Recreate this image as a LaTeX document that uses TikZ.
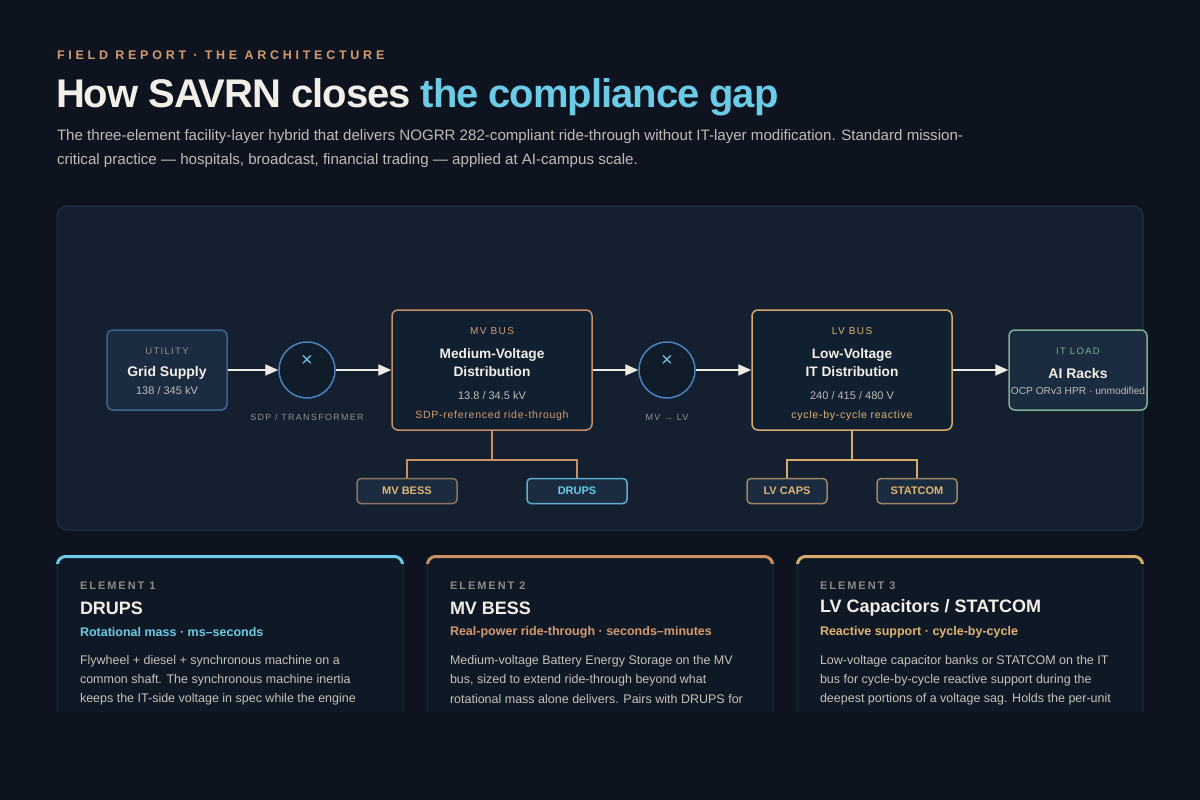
\documentclass[tikz,border=0pt]{standalone}
\usepackage{fontspec}
\setmainfont{Liberation Sans}
\newfontfamily\lsfont[LetterSpace=18]{Liberation Sans}
\newfontfamily\kickfont[LetterSpace=30]{Liberation Sans}
\newfontfamily\tagfont[LetterSpace=14]{Liberation Sans}
\newfontfamily\lsmfont[LetterSpace=7]{Liberation Sans}
\newfontfamily\tightfont[LetterSpace=-2.6]{Liberation Sans}
\usetikzlibrary{arrows.meta}
\definecolor{bg}{HTML}{0E141F}
\definecolor{panel}{HTML}{142030}
\definecolor{panelborder}{HTML}{22344A}
\definecolor{boxfill}{HTML}{1B2C40}
\definecolor{busfill}{HTML}{112030}
\definecolor{gridborder}{HTML}{3F6391}
\definecolor{circborder}{HTML}{4A82BD}
\definecolor{circfill}{HTML}{111C2B}
\definecolor{cyanc}{HTML}{6CCBE6}
\definecolor{copper}{HTML}{C99066}
\definecolor{coppertext}{HTML}{D49A6E}
\definecolor{gold}{HTML}{D6AB6C}
\definecolor{goldtext}{HTML}{E0B472}
\definecolor{sage}{HTML}{7FAE94}
\definecolor{titlewhite}{HTML}{F2EFE8}
\definecolor{smallgray}{HTML}{8F9296}
\definecolor{subgray}{HTML}{BDBCB8}
\definecolor{arrowc}{HTML}{EEEBE3}
\definecolor{bessborder}{HTML}{8C7462}
\definecolor{drupsborder}{HTML}{5EAECB}
\definecolor{lvsmallborder}{HTML}{A08664}
\definecolor{cardfill}{HTML}{0F1825}
\definecolor{cardborder}{HTML}{1E2C40}
\definecolor{bodygray}{HTML}{C4C2BC}
\definecolor{elgray}{HTML}{8C8A86}
\begin{document}
\begin{tikzpicture}[x=1pt,y=-1pt,
  txt/.style={inner sep=0pt, outer sep=0pt},
  boxbase/.style={draw, line width=1.5pt, rounded corners=6pt, inner sep=0pt},
  bigbox/.style={boxbase, minimum width=200pt, minimum height=120pt, fill=busfill},
  endbox/.style={boxbase, minimum height=80pt, fill=boxfill},
  smallbox/.style={boxbase, minimum width=100pt, minimum height=25pt, fill=boxfill, rounded corners=4pt},
  xformer/.style={circle, draw=circborder, line width=1.5pt, fill=circfill, minimum size=56pt, inner sep=0pt},
  xmark/.style={txt, text=cyanc, font=\fontsize{20}{20}\selectfont},
  flow/.style={draw=arrowc, line width=2pt, -{Triangle[length=13pt,width=11pt]}},
  tag/.style={txt, font=\tagfont\fontsize{9.5}{11}\selectfont},
  head/.style={txt, font=\bfseries\fontsize{13.7}{18}\selectfont, text=titlewhite, align=center},
  val/.style={txt, font=\fontsize{11}{13}\selectfont, text=subgray},
  smalllabel/.style={txt, font=\bfseries\fontsize{11}{13}\selectfont},
  cardkicker/.style={txt, anchor=west, font=\lsfont\bfseries\fontsize{11}{13}\selectfont, text=elgray},
  cardtitle/.style={txt, anchor=west, font=\bfseries\fontsize{18}{21}\selectfont, text=titlewhite},
  cardsub/.style={txt, anchor=west, font=\bfseries\fontsize{12.5}{15}\selectfont},
  cardbody/.style={txt, anchor=west, font=\fontsize{12.5}{15}\selectfont, text=bodygray},
]
\useasboundingbox (0,0) rectangle (1200,800);
\fill[bg] (0,0) rectangle (1200,800);

% header
\node[txt, anchor=west, text=coppertext, font=\kickfont\bfseries\fontsize{12.5}{15}\selectfont] (kicker) at (57,55) {FIELD REPORT · THE ARCHITECTURE};
\node[txt, anchor=west, font=\tightfont\bfseries\fontsize{40}{46}\selectfont] (title) at (56,97) {\textcolor{titlewhite}{How SAVRN closes} \textcolor{cyanc}{the compliance gap}};
\node[txt, anchor=west, text=subgray, font=\fontsize{15.1}{17}\selectfont] (sub1) at (57,137) {The three-element facility-layer hybrid that delivers NOGRR 282-compliant ride-through without IT-layer modification. Standard mission-};
\node[txt, anchor=west, text=subgray, font=\fontsize{15.1}{17}\selectfont] (sub2) at (57,161) {critical practice — hospitals, broadcast, financial trading — applied at AI-campus scale.};

% panel
\draw[fill=panel, draw=panelborder, line width=1pt, rounded corners=10pt] (57,206) rectangle (1143,530);

% main nodes
\node[endbox, draw=gridborder, minimum width=120pt] (grid) at (167,370) {};
\node[tag, text=smallgray] (gridk) at (167,351) {UTILITY};
\node[head, font=\bfseries\fontsize{14}{16}\selectfont] (gridh) at (167,373) {Grid Supply};
\node[val] (gridv) at (167,391) {138 / 345 kV};

\node[xformer] (x1) at (307,370) {};
\node[xmark] (x1m) at (307,361) {×};
\node[tag, text=smallgray, font=\tagfont\fontsize{9}{11}\selectfont] (x1l) at (307,417) {SDP / TRANSFORMER};

\node[bigbox, draw=copper] (mv) at (492,370) {};
\node[tag, text=coppertext, font=\tagfont\fontsize{10}{11}\selectfont] (mvk) at (492,331) {MV BUS};
\node[head] (mvh) at (492,363) {Medium-Voltage\\Distribution};
\node[val] (mvv) at (492,396) {13.8 / 34.5 kV};
\node[txt, text=coppertext, font=\lsmfont\fontsize{10.5}{12}\selectfont] (mvn) at (492,416) {SDP-referenced ride-through};

\node[xformer] (x2) at (667,370) {};
\node[xmark] (x2m) at (667,361) {×};
\node[tag, text=smallgray, font=\tagfont\fontsize{9}{11}\selectfont] (x2l) at (667,417) {MV → LV};

\node[bigbox, draw=gold] (lv) at (852,370) {};
\node[tag, text=goldtext, font=\tagfont\fontsize{10}{11}\selectfont] (lvk) at (852,331) {LV BUS};
\node[head] (lvh) at (852,363) {Low-Voltage\\IT Distribution};
\node[val] (lvv) at (852,396) {240 / 415 / 480 V};
\node[txt, text=goldtext, font=\lsmfont\fontsize{10.5}{12}\selectfont] (lvn) at (852,416) {cycle-by-cycle reactive};

\node[endbox, draw=sage, minimum width=138pt] (ai) at (1078,370) {};
\node[tag, text=sage] (aik) at (1078,351) {IT LOAD};
\node[head, font=\bfseries\fontsize{14}{16}\selectfont] (aih) at (1078,373) {AI Racks};
\node[txt, text=subgray, font=\fontsize{10.2}{12}\selectfont] (aiv) at (1078,391) {OCP ORv3 HPR · unmodified};

% flow arrows
\draw[flow] (grid.east) -- (x1.west);
\draw[flow] (x1.east) -- (mv.west);
\draw[flow] (mv.east) -- (x2.west);
\draw[flow] (x2.east) -- (lv.west);
\draw[flow] (lv.east) -- (ai.west);

% branch boxes
\node[smallbox, draw=bessborder] (bess) at (407,491) {};
\node[smalllabel, text=goldtext] (bessl) at (407,491) {MV BESS};
\node[smallbox, draw=drupsborder] (drups) at (577,491) {};
\node[smalllabel, text=cyanc] (drupsl) at (577,491) {DRUPS};
\node[smallbox, draw=lvsmallborder, minimum width=80pt] (caps) at (787,491) {};
\node[smalllabel, text=goldtext] (capsl) at (787,491) {LV CAPS};
\node[smallbox, draw=lvsmallborder, minimum width=80pt] (stat) at (917,491) {};
\node[smalllabel, text=goldtext] (statl) at (917,491) {STATCOM};

\coordinate (mvj) at (492,460);
\coordinate (lvj) at (852,460);
\draw[copper, line width=2pt] (mv.south) -- (mvj);
\draw[copper, line width=2pt] (bess.north) |- (mvj) -| (drups.north);
\draw[gold, line width=2pt] (lv.south) -- (lvj);
\draw[gold, line width=2pt] (caps.north) |- (lvj) -| (stat.north);

% cards
\foreach \x/\c in {57/cyanc, 427/copper, 797/gold}{
  \fill[cardfill, rounded corners=8pt] (\x,556) rectangle ++(346,200);
  \draw[cardborder, line width=1pt, rounded corners=8pt] (\x,760) -- (\x,556) -- ++(346,0) -- ++(0,204);
  \begin{scope}
    \clip (\x-2,554) rectangle ++(350,9);
    \draw[\c, line width=3pt, rounded corners=8pt] (\x+0.5,575) -- (\x+0.5,556.5) -- ++(345,0) -- ++(0,18.5);
  \end{scope}
}
\node[cardkicker] (k1) at (80,586) {ELEMENT 1};
\node[cardtitle] (t1) at (80,608) {DRUPS};
\node[cardsub, text=cyanc] (s1) at (80,632) {Rotational mass · ms–seconds};
\node[cardbody] (b1a) at (80,661) {Flywheel + diesel + synchronous machine on a};
\node[cardbody] (b1b) at (80,680) {common shaft. The synchronous machine inertia};
\node[cardbody] (b1c) at (80,699) {keeps the IT-side voltage in spec while the engine};

\node[cardkicker] (k2) at (450,586) {ELEMENT 2};
\node[cardtitle] (t2) at (450,608) {MV BESS};
\node[cardsub, text=coppertext] (s2) at (450,632) {Real-power ride-through · seconds–minutes};
\node[cardbody] (b2a) at (450,661) {Medium-voltage Battery Energy Storage on the MV};
\node[cardbody] (b2b) at (450,680) {bus, sized to extend ride-through beyond what};
\node[cardbody] (b2c) at (450,699) {rotational mass alone delivers. Pairs with DRUPS for};

\node[cardkicker] (k3) at (820,586) {ELEMENT 3};
\node[cardtitle] (t3) at (820,608) {LV Capacitors / STATCOM};
\node[cardsub, text=goldtext] (s3) at (820,632) {Reactive support · cycle-by-cycle};
\node[cardbody] (b3a) at (820,661) {Low-voltage capacitor banks or STATCOM on the IT};
\node[cardbody] (b3b) at (820,680) {bus for cycle-by-cycle reactive support during the};
\node[cardbody] (b3c) at (820,699) {deepest portions of a voltage sag. Holds the per-unit};

% bottom cut
\fill[bg] (0,712) rectangle (1200,800);
\end{tikzpicture}
\end{document}
